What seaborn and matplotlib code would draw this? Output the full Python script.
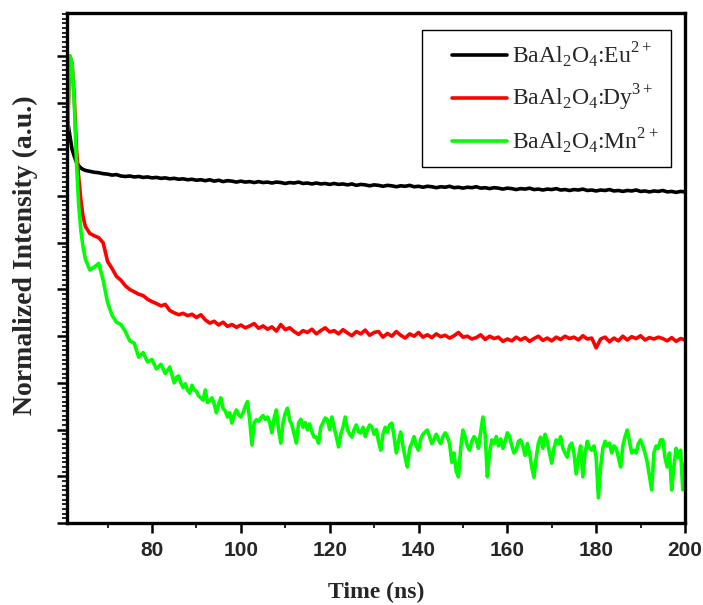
import numpy as np
import pandas as pd
import matplotlib
matplotlib.use("Agg")
import matplotlib.pyplot as plt
import seaborn as sns
from matplotlib.lines import Line2D
from matplotlib.legend_handler import HandlerLine2D
from matplotlib.ticker import MultipleLocator, NullFormatter

# ---- time grids (ns) ----
# 0.5 ns over the excitation pulse, 1 ns afterwards
time_ns = np.concatenate([np.arange(61, 65.5, 0.5), np.arange(66, 201, 1)])
# the Mn trace was recorded with finer steps in the tail
time_mn_ns = np.concatenate([np.arange(61, 65.5, 0.5), np.arange(66, 85, 1),
                             np.arange(85, 200.5, 0.5)])

# ---- normalized decay traces ----
eu_decay = [
    0.860, 0.830, 0.800, 0.785, 0.772, 0.765, 0.760, 0.757, 0.755,
    0.753, 0.751, 0.750, 0.748, 0.747, 0.745, 0.746, 0.743, 0.742, 0.743,
    0.741, 0.742, 0.740, 0.741, 0.739, 0.740, 0.738, 0.739, 0.737, 0.738,
    0.736, 0.737, 0.735, 0.736, 0.734, 0.735, 0.733, 0.735, 0.732, 0.734,
    0.731, 0.733, 0.732, 0.730, 0.732, 0.730, 0.731, 0.729, 0.731, 0.729,
    0.730, 0.728, 0.730, 0.729, 0.727, 0.729, 0.728, 0.730, 0.727, 0.728,
    0.726, 0.728, 0.726, 0.727, 0.725, 0.727, 0.725, 0.726, 0.724, 0.726,
    0.723, 0.725, 0.724, 0.722, 0.724, 0.723, 0.721, 0.723, 0.722, 0.720,
    0.722, 0.721, 0.723, 0.720, 0.721, 0.719, 0.721, 0.720, 0.718, 0.720,
    0.719, 0.721, 0.718, 0.719, 0.717, 0.719, 0.718, 0.720, 0.717, 0.718,
    0.716, 0.718, 0.717, 0.715, 0.717, 0.716, 0.714, 0.716, 0.715, 0.717,
    0.714, 0.715, 0.713, 0.715, 0.714, 0.716, 0.713, 0.714, 0.712, 0.714,
    0.713, 0.715, 0.712, 0.713, 0.711, 0.713, 0.712, 0.714, 0.711, 0.712,
    0.710, 0.712, 0.711, 0.713, 0.710, 0.711, 0.709, 0.711, 0.710, 0.712,
    0.709, 0.710, 0.708, 0.710, 0.709,
]

dy_decay = [
    0.840, 1.000, 0.985, 0.910, 0.800, 0.740, 0.690, 0.655, 0.635,
    0.620, 0.615, 0.611, 0.600, 0.560, 0.545, 0.528, 0.520, 0.508, 0.500,
    0.495, 0.490, 0.487, 0.479, 0.474, 0.470, 0.465, 0.468, 0.455, 0.450,
    0.446, 0.449, 0.444, 0.447, 0.440, 0.446, 0.435, 0.428, 0.432, 0.424,
    0.430, 0.421, 0.425, 0.419, 0.424, 0.418, 0.422, 0.427, 0.417, 0.422,
    0.415, 0.420, 0.411, 0.425, 0.414, 0.418, 0.410, 0.404, 0.412, 0.408,
    0.415, 0.405, 0.412, 0.418, 0.409, 0.412, 0.405, 0.414, 0.407, 0.401,
    0.410, 0.405, 0.413, 0.402, 0.408, 0.410, 0.398, 0.406, 0.400, 0.410,
    0.402, 0.396, 0.405, 0.400, 0.408, 0.398, 0.403, 0.397, 0.405, 0.399,
    0.402, 0.396, 0.401, 0.408, 0.398, 0.400, 0.394, 0.397, 0.403, 0.393,
    0.400, 0.395, 0.398, 0.389, 0.394, 0.390, 0.398, 0.392, 0.397, 0.389,
    0.395, 0.400, 0.391, 0.396, 0.390, 0.398, 0.393, 0.400, 0.395, 0.398,
    0.392, 0.401, 0.394, 0.396, 0.375, 0.394, 0.398, 0.388, 0.396, 0.390,
    0.400, 0.392, 0.399, 0.395, 0.401, 0.392, 0.397, 0.394, 0.398, 0.395,
    0.390, 0.397, 0.389, 0.395, 0.392,
]

mn_decay = [
    # 61 - 65 ns
    0.840, 1.000, 0.985, 0.900, 0.770, 0.680, 0.625, 0.590, 0.565,
    # 66 - 84 ns
    0.542, 0.548, 0.556, 0.520, 0.472, 0.445, 0.430, 0.425, 0.410, 0.390,
    0.385, 0.355, 0.365, 0.345, 0.350, 0.330, 0.340, 0.320, 0.334,
    # 85 - 200 ns
    0.300, 0.312, 0.315, 0.300, 0.290, 0.298, 0.285, 0.278, 0.295, 0.285,
    0.282, 0.272, 0.268, 0.263, 0.285, 0.258, 0.262, 0.268, 0.255, 0.236,
    0.255, 0.268, 0.245, 0.240, 0.227, 0.236, 0.214, 0.232, 0.242, 0.232,
    0.227, 0.236, 0.250, 0.260, 0.220, 0.167, 0.215, 0.221, 0.218, 0.225,
    0.230, 0.222, 0.227, 0.215, 0.193, 0.225, 0.242, 0.200, 0.171, 0.215,
    0.235, 0.246, 0.220, 0.210, 0.190, 0.171, 0.214, 0.222, 0.205, 0.215,
    0.200, 0.212, 0.195, 0.184, 0.184, 0.171, 0.205, 0.215, 0.225, 0.221,
    0.200, 0.227, 0.205, 0.185, 0.163, 0.190, 0.205, 0.227, 0.200, 0.190,
    0.184, 0.200, 0.210, 0.195, 0.193, 0.205, 0.185, 0.200, 0.210, 0.206,
    0.190, 0.200, 0.175, 0.156, 0.190, 0.205, 0.195, 0.210, 0.214, 0.185,
    0.150, 0.175, 0.195, 0.165, 0.140, 0.120, 0.160, 0.171, 0.185, 0.165,
    0.156, 0.180, 0.190, 0.195, 0.199, 0.185, 0.170, 0.180, 0.190, 0.178,
    0.170, 0.185, 0.193, 0.185, 0.170, 0.130, 0.150, 0.110, 0.099, 0.160,
    0.199, 0.185, 0.165, 0.156, 0.175, 0.185, 0.178, 0.160, 0.195, 0.227,
    0.190, 0.099, 0.150, 0.178, 0.170, 0.185, 0.165, 0.180, 0.160, 0.175,
    0.193, 0.185, 0.165, 0.150, 0.156, 0.175, 0.178, 0.165, 0.145, 0.170,
    0.150, 0.120, 0.098, 0.140, 0.171, 0.184, 0.160, 0.190, 0.175, 0.150,
    0.128, 0.160, 0.178, 0.170, 0.185, 0.160, 0.150, 0.141, 0.165, 0.171,
    0.150, 0.105, 0.140, 0.165, 0.099, 0.150, 0.175, 0.160, 0.156, 0.165,
    0.140, 0.054, 0.120, 0.160, 0.175, 0.165, 0.171, 0.150, 0.165, 0.160,
    0.141, 0.120, 0.165, 0.185, 0.199, 0.175, 0.150, 0.156, 0.150, 0.170,
    0.178, 0.165, 0.150, 0.130, 0.100, 0.071, 0.150, 0.165, 0.160, 0.178,
    0.178, 0.140, 0.120, 0.150, 0.071, 0.120, 0.160, 0.140, 0.156, 0.071,
    0.128,
]

samples = ["Eu", "Dy", "Mn"]
legend_labels = [
    r"BaAl$_\mathregular{2}$O$_\mathregular{4}$:Eu$^\mathregular{2+}$",
    r"BaAl$_\mathregular{2}$O$_\mathregular{4}$:Dy$^\mathregular{3+}$",
    r"BaAl$_\mathregular{2}$O$_\mathregular{4}$:Mn$^\mathregular{2+}$",
]
colors = ["#000000", "#ff0000", "#00ff00"]

x_ticks = [80, 100, 120, 140, 160, 180, 200]

# ---- long-form table for seaborn ----
df = pd.concat(
    [
        pd.DataFrame({"Time": t, "Intensity": vals, "Sample": name})
        for name, t, vals in zip(samples, [time_ns, time_ns, time_mn_ns],
                                 [eu_decay, dy_decay, mn_decay])
    ],
    ignore_index=True,
)

sns.set_theme(style="ticks")
plt.rcParams.update({
    "font.family": ["Liberation Serif", "DejaVu Serif"],
    "axes.linewidth": 2.4,
    "axes.edgecolor": "black",
    "mathtext.fontset": "custom",
    "mathtext.rm": "Liberation Serif",
})

fig = plt.figure(figsize=(7.03, 6.05), dpi=100)
fig.patch.set_facecolor("white")
ax = fig.add_axes([0.0953, 0.1355, 0.8791, 0.8430])

line_w = 2.6
sns.lineplot(
    data=df, x="Time", y="Intensity", hue="Sample", hue_order=samples,
    palette=dict(zip(samples, colors)), estimator=None, sort=False,
    linewidth=line_w, legend=False, ax=ax,
)

ax.set_xlim(60.86, 200)
ax.set_ylim(0, 1.092)
ax.set_xticks(x_ticks)
ax.xaxis.set_minor_locator(MultipleLocator(10))
ax.yaxis.set_major_locator(MultipleLocator(0.1))
ax.yaxis.set_minor_locator(MultipleLocator(0.01))
ax.yaxis.set_major_formatter(NullFormatter())

ax.tick_params(axis="both", which="major", direction="out", length=7,
               width=1.8, color="black", top=False, right=False)
ax.tick_params(axis="both", which="minor", direction="out", length=3.8,
               width=1.2, color="black", top=False, right=False)
ax.tick_params(axis="x", which="major", pad=6, labelsize=15)
for lab in ax.get_xticklabels():
    lab.set_fontfamily(["Liberation Sans", "DejaVu Sans"])
    lab.set_fontweight("bold")

ax.set_xlabel("Time (ns)", fontsize=17, fontweight="bold",
              fontfamily="Liberation Serif")
ax.set_ylabel("Normalized Intensity (a.u.)", fontsize=20, fontweight="bold",
              fontfamily="Liberation Serif")
ax.xaxis.set_label_coords(0.5, -0.1157)
ax.yaxis.set_label_coords(-0.047, 0.5255)

for side in ["top", "right", "bottom", "left"]:
    ax.spines[side].set_visible(True)
    ax.spines[side].set_linewidth(2.4)
    ax.spines[side].set_color("black")


class GapLineHandler(HandlerLine2D):
    """Legend line that leaves an empty margin before the stroke."""

    def __init__(self, gap_frac, **kw):
        super().__init__(**kw)
        self.gap_frac = gap_frac

    def get_xdata(self, legend, xdescent, ydescent, width, height, fontsize):
        x0 = -xdescent + self.gap_frac * width
        x1 = -xdescent + width
        return np.array([x0, x1]), np.array([x0, x1])


handles = [Line2D([], [], color=c, linewidth=line_w) for c in colors]
leg = ax.legend(
    handles, legend_labels,
    loc="upper right", bbox_to_anchor=(0.5744, 0.40, 0.4029, 0.5667),
    mode="expand", borderaxespad=0,
    prop={"family": "Liberation Serif", "size": 17},
    frameon=True, fancybox=False, shadow=False,
    handlelength=3.13, handletextpad=0.25, borderpad=0.45, labelspacing=0.55,
    handler_map={Line2D: GapLineHandler(0.257)},
)
frame = leg.get_frame()
frame.set_edgecolor("black")
frame.set_linewidth(1.0)
frame.set_facecolor("white")
frame.set_alpha(1.0)

fig.savefig("out.png", dpi=100, facecolor="white")
